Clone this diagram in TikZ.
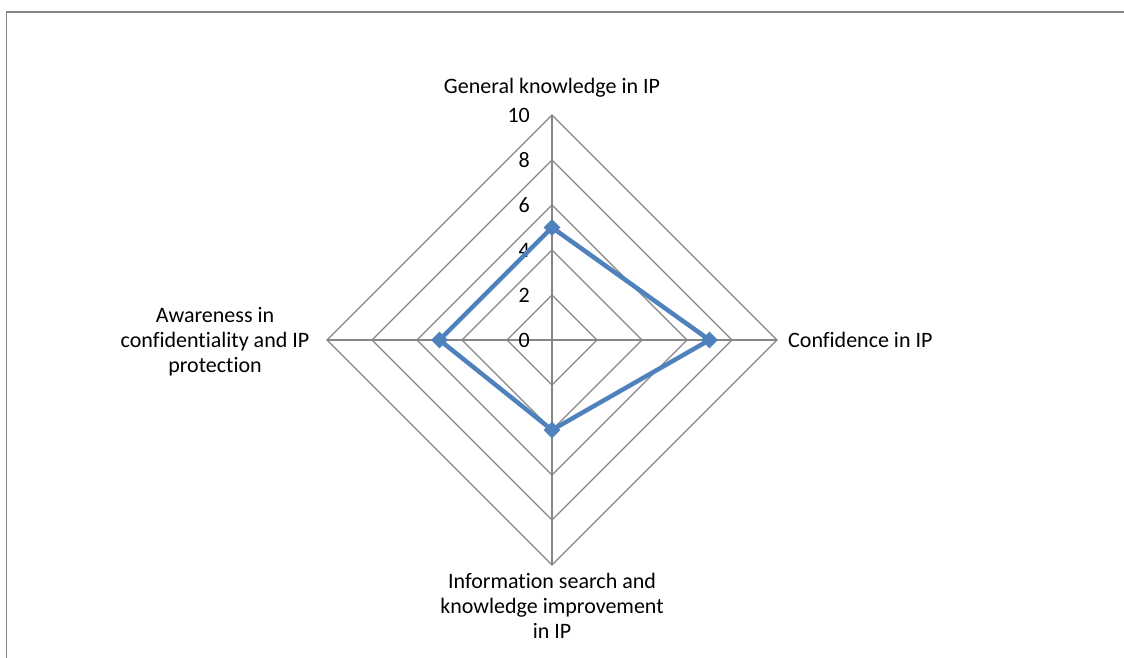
\documentclass[tikz,border=0pt]{standalone}
\usepackage{fontspec}
\setmainfont{Carlito}[Ligatures=NoCommon]
\usetikzlibrary{shapes.geometric}
\definecolor{axisgray}{RGB}{134,134,134}
\definecolor{seriesblue}{RGB}{79,129,189}

\begin{document}
\begin{tikzpicture}
  [x=1pt,y=-1pt,
   gridline/.style={draw=axisgray,line width=1.1pt},
   series/.style={draw=seriesblue,line width=4.5pt,line join=round},
   datapt/.style={diamond,fill=seriesblue,inner sep=0pt,minimum size=17pt},
   ticklabel/.style={anchor=east,inner sep=0pt,font=\fontsize{22}{25}\selectfont},
   axislabel/.style={align=center,inner sep=0pt,font=\fontsize{22}{25}\selectfont}]
  \useasboundingbox (0,0) rectangle (1124,658);
  \draw[axisgray,line width=1.5pt] (6.5,658) -- (6.5,12) -- (1124,12);

  \coordinate (c) at (552,340);
  \coordinate (t) at (552,115);
  \coordinate (r) at (777,340);
  \coordinate (b) at (552,565);
  \coordinate (l) at (327,340);

  % grid
  \foreach \r in {45,90,135,180,225}
    \draw[gridline] (552,{340-\r}) -- ({552+\r},340) -- (552,{340+\r}) -- ({552-\r},340) -- cycle;
  \foreach \a in {t,r,b,l}
    \draw[gridline] (c) -- (\a);

  \foreach \v in {0,2,...,10}
    \node[ticklabel] (tick\v) at (530,{340-22.5*\v}) {\v};

  % axis labels
  \node[axislabel] (gen) at (552,88) {General knowledge in IP};
  \node[axislabel,anchor=west] (conf) at (788,340) {Confidence in IP};
  \node[axislabel] (info) at (552,606) {Information search and\\knowledge improvement\\in IP};
  \node[axislabel] (aware) at (215,342) {Awareness in\\confidentiality and IP\\protection};

  % series
  \coordinate (d1) at (552,227.5);
  \coordinate (d2) at (709.5,340);
  \coordinate (d3) at (552,430);
  \coordinate (d4) at (439.5,340);
  \draw[series] (d1) -- (d2) -- (d3) -- (d4) -- cycle;
  \foreach \p in {d1,d2,d3,d4}
    \node[datapt] (m\p) at (\p) {};
\end{tikzpicture}
\end{document}
